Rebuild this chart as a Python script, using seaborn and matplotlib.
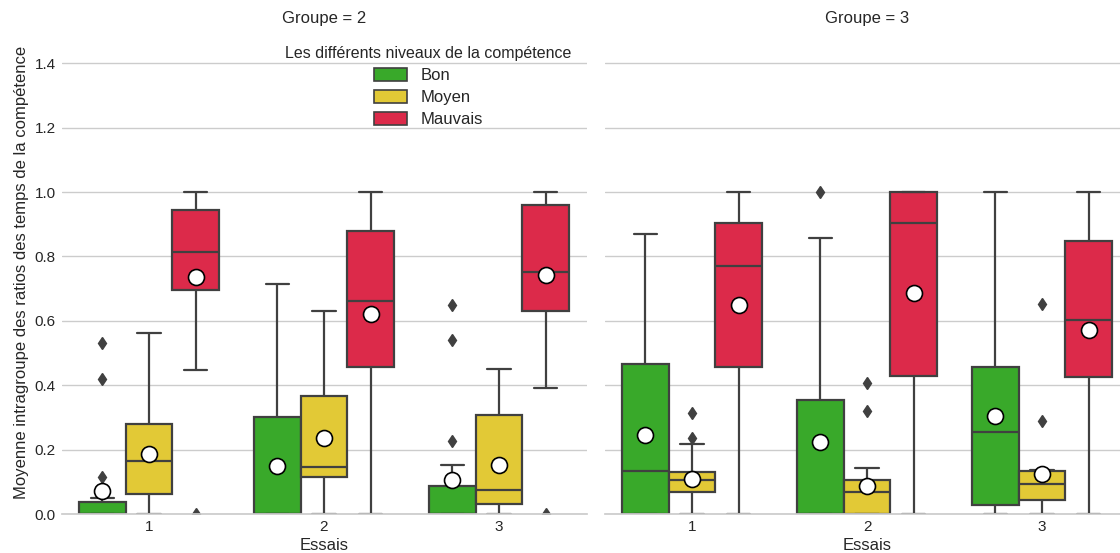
import pandas as pd
import matplotlib
matplotlib.use('Agg')
import matplotlib.pyplot as plt
import matplotlib.patches as mpatches
import seaborn as sns


niveaux = ['Bon', 'Moyen', 'Mauvais']
couleurs = ['#39a92a', '#e2c936', '#dc2a4a']
essais = [1, 2, 3]
groupes = [2, 3]

# Groupe 2 : valeurs relevees essai par essai
g2_e1_bon = [0, 0, 0, 0, 0, 0, 0, 0, 0, 0.02, 0.027, 0.03, 0.037, 0.05, 0.116, 0.418, 0.53]
g2_e1_moyen = [0, 0.02, 0.061, 0.10, 0.166, 0.19, 0.281, 0.304, 0.561]
g2_e1_mauvais = [0, 0.446, 0.695, 0.80, 0.815, 0.935, 0.944, 0.998, 1.0]
g2_e2_bon = [0, 0, 0, 0, 0, 0.02, 0.302, 0.314, 0.714]
g2_e2_moyen = [0, 0.09, 0.114, 0.13, 0.146, 0.25, 0.367, 0.396, 0.631]
g2_e2_mauvais = [0, 0.30, 0.455, 0.56, 0.66, 0.78, 0.88, 0.945, 1.0]
g2_e3_bon = [0, 0, 0, 0, 0, 0, 0, 0, 0, 0.04, 0.055, 0.068, 0.088, 0.151, 0.228, 0.54, 0.649]
g2_e3_moyen = [0, 0.01, 0.032, 0.05, 0.075, 0.12, 0.306, 0.325, 0.45]
g2_e3_mauvais = [0, 0.392, 0.60, 0.63, 0.72, 0.745, 0.752, 0.90, 0.95, 0.961, 0.996, 1.0, 1.0]

# Groupe 3
g3_e1_bon = [0, 0, 0, 0.05, 0.134, 0.20, 0.466, 0.475, 0.871]
g3_e1_moyen = [0, 0, 0.005, 0.067, 0.07, 0.075, 0.105, 0.105, 0.106, 0.131, 0.217, 0.235, 0.314]
g3_e1_mauvais = [0, 0.30, 0.455, 0.60, 0.769, 0.83, 0.905, 0.973, 1.0]
g3_e2_bon = [0, 0, 0, 0, 0, 0, 0, 0.10, 0.20, 0.355, 0.414, 0.856, 1.0]
g3_e2_moyen = [0, 0, 0, 0, 0, 0, 0.02, 0.04, 0.068, 0.07, 0.08, 0.10, 0.105, 0.143, 0.143, 0.32, 0.407]
g3_e2_mauvais = [0, 0.20, 0.43, 0.70, 0.904, 0.949, 1.0, 1.0, 1.0]
g3_e3_bon = [0, 0.01, 0.029, 0.15, 0.255, 0.33, 0.456, 0.506, 1.0]
g3_e3_moyen = [0, 0, 0, 0.0435, 0.0435, 0.045, 0.093, 0.093, 0.093, 0.134, 0.138, 0.29, 0.652]
g3_e3_mauvais = [0, 0.25, 0.426, 0.47, 0.604, 0.65, 0.847, 0.901, 1.0]

series = {
    (2, 1): [g2_e1_bon, g2_e1_moyen, g2_e1_mauvais],
    (2, 2): [g2_e2_bon, g2_e2_moyen, g2_e2_mauvais],
    (2, 3): [g2_e3_bon, g2_e3_moyen, g2_e3_mauvais],
    (3, 1): [g3_e1_bon, g3_e1_moyen, g3_e1_mauvais],
    (3, 2): [g3_e2_bon, g3_e2_moyen, g3_e2_mauvais],
    (3, 3): [g3_e3_bon, g3_e3_moyen, g3_e3_mauvais],
}


def build_frame():
    rows = []
    for (groupe, essai), listes in series.items():
        for niveau, valeurs in zip(niveaux, listes):
            for v in valeurs:
                rows.append({'Groupe': groupe, 'Essais': essai,
                             'Niveau': niveau, 'ratio': v})
    return pd.DataFrame(rows)


def main():
    df = build_frame()

    sns.set_theme(style='whitegrid')
    plt.rcParams['font.family'] = ['Liberation Sans', 'DejaVu Sans']

    g = sns.catplot(
        data=df, x='Essais', y='ratio', hue='Niveau', col='Groupe',
        kind='box', order=essais, hue_order=niveaux, col_order=groupes,
        palette=couleurs, saturation=1, linecolor='.25', linewidth=1.6,
        showmeans=True,
        meanprops=dict(marker='o', markerfacecolor='white',
                       markeredgecolor='black', markersize=11.5,
                       markeredgewidth=1.2),
        flierprops=dict(marker='d', markersize=6, markerfacecolor='.25',
                        markeredgecolor='.25'),
        legend=False, height=5.53, aspect=1.0,
    )
    g.set_titles('Groupe = {col_name}')
    g.set(ylim=(0, 1.5))
    g.set_axis_labels('Essais', 'Moyenne intragroupe des ratios des temps de la compétence')
    g.despine(left=True)
    for ax in g.axes.flat:
        ax.tick_params(axis='both', length=0, pad=4)
        ax.xaxis.labelpad = 3

    fig = g.figure
    fig.set_size_inches(11.2, 5.53)
    W, H = 1120.0, 553.0
    bottom = 39 / H
    height = 483 / H
    width = 525 / W
    g.axes[0, 0].set_position([61.5 / W, bottom, width, height])
    g.axes[0, 1].set_position([604.5 / W, bottom, width, height])

    ax0 = g.axes[0, 0]
    handles = [mpatches.Patch(facecolor=c, edgecolor='.25', linewidth=1.2, label=n)
               for n, c in zip(niveaux, couleurs)]
    ax0.legend(handles=handles, title='Les différents niveaux de la compétence',
               loc='upper right', frameon=False, fontsize=12, title_fontsize=11.5,
               labelspacing=0.42, handleheight=0.8)

    fig.savefig('out.png', dpi=100)


if __name__ == '__main__':
    main()
